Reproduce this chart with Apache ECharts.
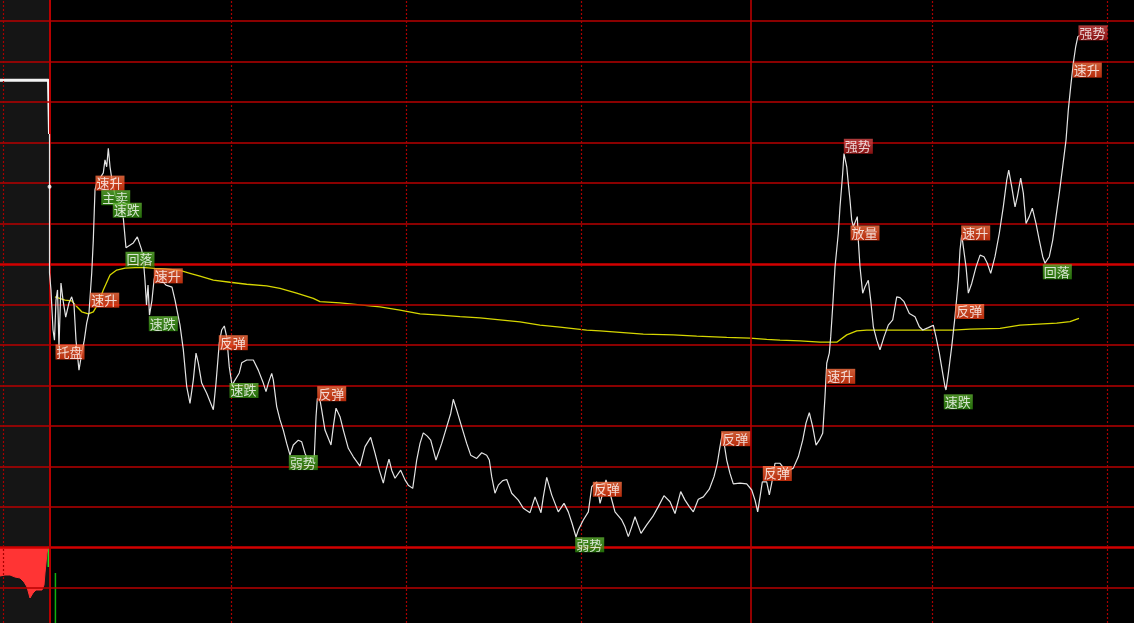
<!DOCTYPE html>
<html>
<head>
<meta charset="utf-8">
<title>分时走势</title>
<script src="https://cdn.jsdelivr.net/npm/echarts@6/dist/echarts.min.js"></script>
<style>
  html, body { margin: 0; padding: 0; background: #000; }
  #chart { width: 1134px; height: 623px; }
</style>
</head>
<body>
<div id="chart"></div>
<script>
// price change in grid units (one red line = 1), x in minutes from the open
const priceLine = [
  [-1.01, 3.21], [-1.01, 1.91], [-1.01, -0.22], [-0.76, -0.64], [-0.41, -1.63], [-0.16, -1.88],
  [0.10, -0.89], [0.36, -0.64], [0.61, -2.05], [0.95, -0.47], [1.30, -0.89], [1.76, -1.31],
  [2.32, -0.96], [2.78, -0.81], [3.18, -1.01], [3.52, -1.88], [4.03, -2.62], [4.50, -2.20],
  [4.94, -1.88], [5.35, -1.46], [5.74, -1.21], [6.21, -0.22], [6.48, 0.59], [6.77, 1.83],
  [7.06, 2.00], [7.63, 2.12], [8.19, 2.25], [8.48, 2.57], [8.77, 2.40], [9.05, 2.86],
  [9.34, 2.40], [9.63, 2.12], [10.19, 1.70], [11.05, 1.46], [11.61, 1.14], [12.07, 0.40],
  [13.32, 0.52], [14.01, 0.67], [14.76, 0.35], [15.07, 0.05], [15.32, -0.40], [15.58, -1.01],
  [15.84, -0.52], [16.09, -1.26], [16.52, -0.89], [16.86, -0.40], [17.21, -0.15], [18.40, -0.44],
  [18.92, -0.52], [19.94, -0.57], [20.46, -0.89], [21.31, -1.51], [21.88, -2.12], [22.46, -3.03],
  [23.02, -3.44], [23.59, -2.86], [24.05, -2.20], [24.44, -2.44], [25.02, -2.94], [25.88, -3.19],
  [27.01, -3.60], [27.47, -2.94], [28.03, -1.95], [28.44, -1.63], [28.89, -1.53], [29.30, -1.80],
  [29.74, -2.54], [30.21, -2.99], [31.45, -2.69], [31.87, -2.44], [32.72, -2.37], [33.85, -2.37],
  [34.70, -2.62], [35.56, -2.94], [36.02, -3.15], [36.42, -2.94], [37.00, -2.70], [37.27, -2.86],
  [37.85, -3.52], [38.42, -3.85], [38.98, -4.10], [39.56, -4.43], [40.13, -4.72], [40.69, -4.47],
  [41.55, -4.35], [42.13, -4.39], [42.69, -4.67], [43.04, -4.79], [44.28, -4.76], [44.58, -3.77],
  [44.80, -3.32], [45.26, -3.36], [45.55, -3.60], [46.11, -4.10], [47.14, -4.47], [47.53, -4.02],
  [48.00, -3.56], [48.68, -3.77], [49.25, -4.10], [50.10, -4.55], [50.96, -4.76], [52.10, -4.99],
  [52.96, -4.51], [53.93, -4.28], [54.67, -4.67], [55.40, -5.09], [56.09, -5.41], [56.55, -5.09],
  [57.06, -4.82], [57.52, -5.09], [58.09, -5.29], [59.06, -5.09], [59.80, -5.33], [60.36, -5.46],
  [61.12, -5.54], [61.80, -4.84], [62.37, -4.43], [62.93, -4.17], [63.61, -4.25], [64.20, -4.35],
  [65.10, -4.84], [66.08, -4.43], [66.93, -4.02], [67.62, -3.69], [68.06, -3.34], [68.64, -3.60],
  [69.50, -4.02], [70.35, -4.43], [71.04, -4.72], [72.06, -4.80], [72.92, -4.66], [73.77, -4.72],
  [74.22, -4.84], [74.63, -5.25], [75.19, -5.66], [75.76, -5.46], [76.51, -5.35], [77.20, -5.32],
  [78.05, -5.66], [79.18, -5.83], [80.04, -6.03], [81.18, -6.14], [82.04, -5.75], [83.06, -6.14],
  [83.46, -5.75], [84.04, -5.27], [84.89, -5.70], [86.02, -6.12], [87.00, -5.91], [87.73, -6.12],
  [88.37, -6.40], [89.05, -6.74], [89.44, -6.57], [90.30, -6.32], [91.16, -6.12], [91.74, -5.50],
  [92.59, -5.38], [93.16, -5.91], [93.62, -5.66], [94.18, -5.33], [94.87, -5.66], [95.72, -6.12],
  [96.87, -6.32], [97.43, -6.49], [98.00, -6.73], [98.58, -6.49], [99.14, -6.24], [100.17, -6.65],
  [101.14, -6.44], [102.17, -6.24], [103.13, -5.99], [104.10, -5.72], [105.13, -5.87], [105.99, -6.16],
  [106.96, -5.62], [107.70, -5.83], [108.43, -5.99], [109.12, -6.12], [109.97, -5.81], [110.83, -5.75],
  [111.85, -5.56], [112.66, -5.25], [113.22, -4.92], [113.68, -4.51], [114.11, -4.17], [114.83, -4.84],
  [115.39, -5.17], [115.96, -5.43], [117.10, -5.41], [118.25, -5.43], [119.11, -5.58], [119.67, -5.83],
  [120.13, -6.12], [120.53, -5.75], [120.92, -5.38], [121.67, -5.38], [122.12, -5.70], [122.53, -5.41],
  [123.09, -4.92], [123.95, -4.92], [125.09, -5.13], [126.22, -5.04], [127.08, -4.76], [127.83, -4.35],
  [128.39, -3.93], [128.96, -3.67], [129.54, -4.02], [130.11, -4.47], [130.67, -4.35], [131.25, -4.18],
  [131.64, -3.28], [131.94, -2.45], [132.38, -2.20], [132.62, -1.80], [132.96, -1.05], [133.36, -0.07],
  [133.92, 0.76], [134.21, 1.41], [134.67, 2.24], [134.89, 2.73], [135.36, 2.40], [135.63, 1.99],
  [135.92, 1.58], [136.21, 1.09], [136.49, 0.92], [137.17, 1.17], [137.34, 0.59], [137.63, -0.07],
  [138.09, -0.72], [138.49, -0.56], [139.05, -0.40], [139.46, -0.89], [139.91, -1.55], [140.49, -1.88],
  [141.05, -2.12], [141.74, -1.80], [142.47, -1.51], [143.23, -1.38], [143.91, -0.81], [144.47, -0.83],
  [145.16, -0.93], [146.07, -1.22], [147.04, -1.30], [147.78, -1.55], [148.36, -1.63], [149.32, -1.57],
  [150.17, -1.51], [150.63, -1.80], [151.20, -2.20], [151.78, -2.70], [152.17, -3.03], [152.34, -3.11],
  [152.74, -2.70], [153.32, -2.04], [153.88, -1.30], [154.45, -0.40], [154.74, 0.35], [155.03, 0.72],
  [155.30, 0.43], [155.77, -0.07], [156.16, -0.72], [156.74, -0.48], [157.48, -0.07], [158.17, 0.22],
  [158.84, 0.18], [159.41, 0.02], [159.99, -0.23], [160.72, 0.18], [161.46, 0.76], [162.14, 1.41],
  [162.73, 2.07], [163.07, 2.32], [163.58, 1.91], [164.15, 1.41], [164.54, 1.66], [165.12, 2.12],
  [165.57, 1.75], [166.03, 1.00], [166.59, 1.17], [167.11, 1.38], [167.74, 1.00], [168.30, 0.59],
  [168.89, 0.18], [169.28, 0.02], [170.01, 0.18], [170.60, 0.59], [171.16, 1.17], [171.72, 1.75],
  [172.30, 2.40], [172.87, 3.06], [173.26, 3.80], [173.67, 4.38], [174.12, 4.96], [174.53, 5.37],
  [174.88, 5.61], [175.27, 5.65]
];

const avgLine = [
  [-0.07, -0.81], [1.64, -0.89], [2.78, -0.91], [3.64, -1.05], [4.50, -1.18], [5.62, -1.23],
  [6.48, -1.18], [7.34, -0.97], [8.19, -0.64], [9.34, -0.27], [10.48, -0.15], [11.90, -0.10],
  [13.61, -0.09], [15.32, -0.09], [17.03, -0.11], [18.75, -0.12], [21.31, -0.16], [23.02, -0.23],
  [24.73, -0.30], [27.01, -0.40], [29.86, -0.45], [32.72, -0.50], [36.14, -0.54], [38.42, -0.60],
  [41.27, -0.72], [44.11, -0.85], [45.26, -0.93], [48.68, -0.96], [52.10, -1.01], [55.52, -1.06],
  [58.94, -1.14], [62.37, -1.23], [65.79, -1.26], [69.21, -1.30], [72.63, -1.33], [76.05, -1.38],
  [79.47, -1.43], [82.89, -1.51], [86.31, -1.56], [90.88, -1.63], [93.16, -1.65], [97.72, -1.70],
  [100.56, -1.73], [105.69, -1.75], [109.70, -1.78], [114.83, -1.81], [118.82, -1.83], [121.67, -1.86],
  [123.95, -1.88], [127.37, -1.90], [130.79, -1.93], [133.65, -1.93], [135.36, -1.75], [137.07, -1.65],
  [138.78, -1.63], [142.20, -1.63], [147.90, -1.63], [153.59, -1.63], [156.45, -1.61], [161.58, -1.59],
  [165.00, -1.51], [171.28, -1.46], [173.55, -1.42], [175.09, -1.34]
];

// call auction (left panel)
const auctionPrice = [[-9.48, 4.54], [-1.18, 4.54], [-1.01, 3.21]];
const openPoint = [[-1.01, 1.91]];
const auctionVolume = [
  [0, 37.3], [5, 36], [10, 36], [15, 38.7], [20, 40], [24, 45.3], [27, 52], [30, 66.7],
  [33, 60], [36, 56], [38, 54.7], [42, 56], [44, 49.3], [45, 33.3], [47, 6.7], [48, 0]
];
const auctionVolumeLast = [[48.3, 25.3]];
const volume = [[0, 66.7]];

// [minute, value, text, kind]
const signals = [
  [0.10, -2.00, '托盘', 'up'], [6.94, 2.17, '速升', 'up'], [7.92, 1.81, '主卖', 'down'],
  [9.90, 1.50, '速跌', 'down'], [12.07, 0.29, '回落', 'down'], [6.04, -0.72, '速升', 'up'],
  [16.91, -0.12, '速升', 'up'], [16.06, -1.30, '速跌', 'down'], [28.03, -1.77, '反弹', 'up'],
  [29.86, -2.95, '速跌', 'down'], [40.01, -4.73, '弱势', 'down'], [44.87, -3.03, '反弹', 'up'],
  [89.00, -6.76, '弱势', 'down'], [92.01, -5.39, '反弹', 'up'], [113.97, -4.14, '反弹', 'up'],
  [121.09, -5.00, '反弹', 'up'], [131.94, -2.60, '速升', 'up'], [134.95, 3.08, '强势', 'strong'],
  [136.09, 0.94, '放量', 'up'], [152.05, -3.23, '速跌', 'down'], [154.00, -1.00, '反弹', 'up'],
  [155.03, 0.94, '速升', 'up'], [168.99, -0.02, '回落', 'down'], [174.12, 4.96, '速升', 'up'],
  [175.09, 5.88, '强势', 'strong']
];

const gridLevels = [-8, -7, -6, -5, -4, -3, -2, -1, 0, 1, 2, 3, 4, 5, 6];
const boldLevels = [0, -7];
const timeLines = [30, 60, 90, 150, 180];
const breakLine = 119;
const auctionEdge = -1.01;
const auctionStart = -8.97;

const chart = echarts.init(document.getElementById('chart'));

const tagColors = {
  up: ['#ff7444', '#e6360e'],
  down: ['#5fb232', '#2c870b'],
  strong: ['#da4a4a', '#a81616'],
};
function tagBg(kind) {
  const c = tagColors[kind];
  return new echarts.graphic.LinearGradient(0, 0, 0, 1, [
    { offset: 0, color: c[0] },
    { offset: 1, color: c[1] },
  ]);
}

const hLines = gridLevels.map((v) => ({
  yAxis: v,
  lineStyle: boldLevels.includes(v)
    ? { color: '#d20000', width: 2.5, type: 'solid' }
    : { color: '#b80000', width: 1.6, type: 'solid' },
}));
const vLines = timeLines
  .map((m) => ({ xAxis: m, lineStyle: { color: '#a80000', width: 1.2, type: [2, 2] } }))
  .concat([
    { xAxis: breakLine, lineStyle: { color: '#b80000', width: 1.6, type: 'solid' } },
    { xAxis: auctionEdge, lineStyle: { color: '#b80000', width: 2, type: 'solid' } },
    { xAxis: auctionStart, lineStyle: { color: '#a80000', width: 1.2, type: [2, 2] } },
  ]);

const option = {
  backgroundColor: '#000',
  animation: false,
  grid: [
    { left: 0, right: 0, top: 0, bottom: 0 },
    { left: 0, width: 50, top: 548, bottom: 0 },
    { left: 0, right: 0, top: 548, bottom: 0 },
  ],
  xAxis: [
    { type: 'value', gridIndex: 0, min: -9.48, max: 184.5, show: false },
    { type: 'value', gridIndex: 1, min: 0, max: 50, show: false },
    { type: 'value', gridIndex: 2, min: -9.48, max: 184.5, show: false },
  ],
  yAxis: [
    { type: 'value', gridIndex: 0, min: -8.864, max: 6.519, show: false },
    { type: 'value', gridIndex: 1, min: 0, max: 100, inverse: true, show: false },
    { type: 'value', gridIndex: 2, min: 0, max: 100, show: false },
  ],
  series: [
    {
      name: 'panel',
      type: 'line',
      z: 1,
      data: [],
      silent: true,
      markArea: {
        silent: true,
        itemStyle: { color: '#151515' },
        data: [[{ xAxis: -9.48 }, { xAxis: auctionEdge }]],
      },
    },
    {
      name: 'grid',
      type: 'line',
      z: 2,
      data: [],
      silent: true,
      markLine: {
        silent: true,
        symbol: 'none',
        label: { show: false },
        animation: false,
        data: hLines.concat(vLines),
      },
    },
    {
      name: '集合竞价',
      type: 'line',
      z: 3,
      data: auctionPrice,
      showSymbol: false,
      lineStyle: { color: '#f2f2f2', width: 3 },
    },
    {
      name: '竞价量',
      type: 'line',
      xAxisIndex: 1,
      yAxisIndex: 1,
      z: 3,
      data: auctionVolume,
      showSymbol: false,
      lineStyle: { color: '#ff3434', width: 1 },
      areaStyle: { color: '#ff3434', opacity: 1, origin: 'start' },
    },
    {
      name: '竞价末量',
      type: 'bar',
      xAxisIndex: 1,
      yAxisIndex: 1,
      z: 3,
      barWidth: 1.5,
      data: auctionVolumeLast,
      itemStyle: { color: '#22dd22' },
    },
    {
      name: '成交量',
      type: 'bar',
      xAxisIndex: 2,
      yAxisIndex: 2,
      z: 3,
      barWidth: 1.5,
      data: volume,
      itemStyle: { color: '#10b010' },
    },
    {
      name: '均价',
      type: 'line',
      z: 4,
      data: avgLine,
      showSymbol: false,
      lineStyle: { color: '#d6d600', width: 1.3 },
    },
    {
      name: '价格',
      type: 'line',
      z: 5,
      data: priceLine,
      showSymbol: false,
      lineStyle: { color: '#e4e4e4', width: 1.2 },
    },
    {
      name: '开盘',
      type: 'scatter',
      z: 6,
      data: openPoint,
      symbolSize: 4,
      itemStyle: { color: '#ffffff' },
    },
    {
      name: '信号',
      type: 'scatter',
      z: 7,
      symbol: 'rect',
      symbolSize: 1,
      itemStyle: { color: 'rgba(0,0,0,0)' },
      data: signals.map((s) => ({
        name: s[2],
        value: [s[0], s[1]],
        label: { backgroundColor: tagBg(s[3]) },
      })),
      label: {
        show: true,
        position: [0, 0],
        formatter: '{b}',
        color: '#ffffff',
        fontSize: 13,
        lineHeight: 13,
        fontFamily: 'Noto Sans CJK SC',
        padding: [1, 2, 1, 1],
      },
    },
  ],
};

chart.setOption(option);
</script>
</body>
</html>
